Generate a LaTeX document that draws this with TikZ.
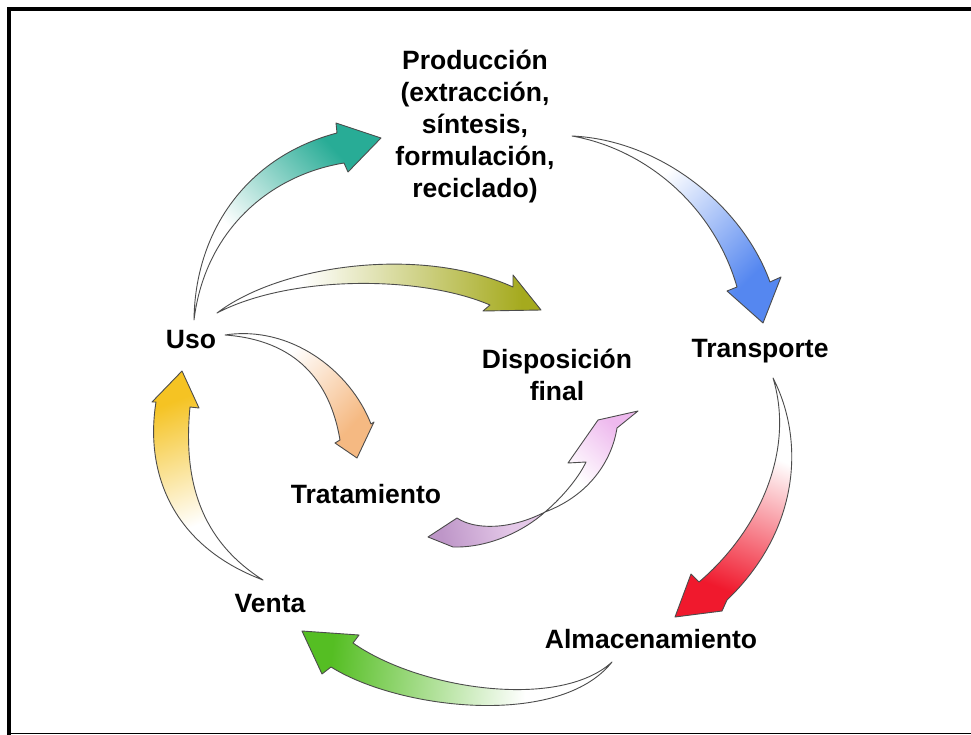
\documentclass[tikz,border=0pt]{standalone}
\usepackage{fontspec}
\setmainfont{Liberation Sans}
\makeatletter
\pgfdeclareverticalshading[tikz@axis@top,tikz@axis@bottom]{arrowgrad}{100bp}{color(0bp)=(tikz@axis@bottom); color(38bp)=(tikz@axis@bottom); color(72bp)=(tikz@axis@top); color(100bp)=(tikz@axis@top)}
\makeatother
\definecolor{tealc}{RGB}{40,172,150}
\definecolor{bluec}{RGB}{85,135,240}
\definecolor{redc}{RGB}{240,25,45}
\definecolor{greenc}{RGB}{85,190,35}
\definecolor{yellowc}{RGB}{245,195,35}
\definecolor{olivec}{RGB}{165,170,30}
\definecolor{peachc}{RGB}{245,185,130}
\definecolor{pinkc}{RGB}{238,185,238}
\definecolor{purplec}{RGB}{190,150,200}
\definecolor{purplelt}{RGB}{228,200,232}
\tikzset{
  lbl/.style={font=\bfseries\fontsize{26.5}{32}\selectfont, align=center, inner sep=0pt},
  arr/.style={draw=black!70, line width=0.9pt, line join=round},
  grad/.style 2 args={bottom color=white, top color=#1, shading=arrowgrad, shading angle=#2},
  grad3/.style n args={3}{bottom color=#1, top color=#2, shading=arrowgrad, shading angle=#3}
}
\begin{document}
\begin{tikzpicture}[x=1pt,y=-1pt]
\useasboundingbox (0,0) rectangle (971,735);
\fill[white] (0,0) rectangle (971,735);
% frame
\draw[line width=4pt] (9,735) -- (9,9) -- (971,9);
\draw[line width=1.2pt] (7,733.5) -- (971,733.5);

% labels
\node[lbl] (prod) at (475,127) {Producción\\(extracción,\\síntesis,\\formulación,\\reciclado)};
\node[lbl] (uso) at (191,340) {Uso};
\node[lbl] (trans) at (760,351) {Transporte};
\node[lbl] (disp) at (557,375) {Disposición\\final};
\node[lbl] (trat) at (366,494) {Tratamiento};
\node[lbl] (venta) at (270,604) {Venta};
\node[lbl] (alma) at (651,639) {Almacenamiento};

% 1 teal: Uso -> Produccion
\path[arr, grad={tealc}{-46}] (194,320) .. controls (195,232) and (246,157) .. (337,133)
  -- (336,123) -- (381,138) -- (348,172) -- (344,163)
  .. controls (270,175) and (205,230) .. cycle;
% 2 blue: Produccion -> Transporte
\path[arr, grad={bluec}{-134}] (572,136) .. controls (660,140) and (742,205) .. (770,282)
  -- (781,277) -- (763,323) -- (727,291) -- (737,287)
  .. controls (715,210) and (650,150) .. cycle;
% 3 red: Transporte -> Almacenamiento
\path[arr, grad={redc}{158}] (773,378) .. controls (805,440) and (800,530) .. (727,600)
  -- (722,611) -- (675,617) -- (691,574) -- (699,582)
  .. controls (760,530) and (795,450) .. cycle;
% 4 green: Almacenamiento -> Venta
\path[arr, grad={greenc}{84}] (612,662) .. controls (560,728) and (400,710) .. (331,667)
  -- (322,674) -- (302,631) -- (359,635) -- (353,643)
  .. controls (420,690) and (560,710) .. cycle;
% 5 yellow: Venta -> Uso
\path[arr, grad={yellowc}{21}] (263,580) .. controls (170,545) and (145,470) .. (156,402)
  -- (152,402) -- (182,371) -- (199,408) -- (190,407)
  .. controls (183,480) and (200,540) .. cycle;
% 6 olive: Uso -> Disposicion final
\path[arr, grad={olivec}{-90}] (217,313) .. controls (280,265) and (420,245) .. (513,287)
  -- (513,275) -- (541,310) -- (483,311) -- (490,305)
  .. controls (420,275) and (290,275) .. cycle;
% 7 peach: Uso -> Tratamiento
\path[arr, grad={peachc}{-133}] (225,335) .. controls (290,325) and (350,370) .. (371,424)
  -- (374,422) -- (357,458) -- (335,443) -- (340,440)
  .. controls (330,380) and (295,340) .. cycle;
% 8 pink: Tratamiento -> Disposicion final
\path[arr, grad3={purplelt}{purplec}{102}] (545,512) .. controls (525,530) and (490,548) .. (453,547)
  -- (428,537) -- (457,518) .. controls (475,530) and (510,530) .. cycle;
\path[arr, grad={pinkc}{-43}] (545,512) .. controls (565,495) and (580,475) .. (586,462)
  -- (568,463) -- (598,420) -- (638,411) -- (617,428)
  .. controls (612,460) and (590,495) .. cycle;
\end{tikzpicture}
\end{document}
